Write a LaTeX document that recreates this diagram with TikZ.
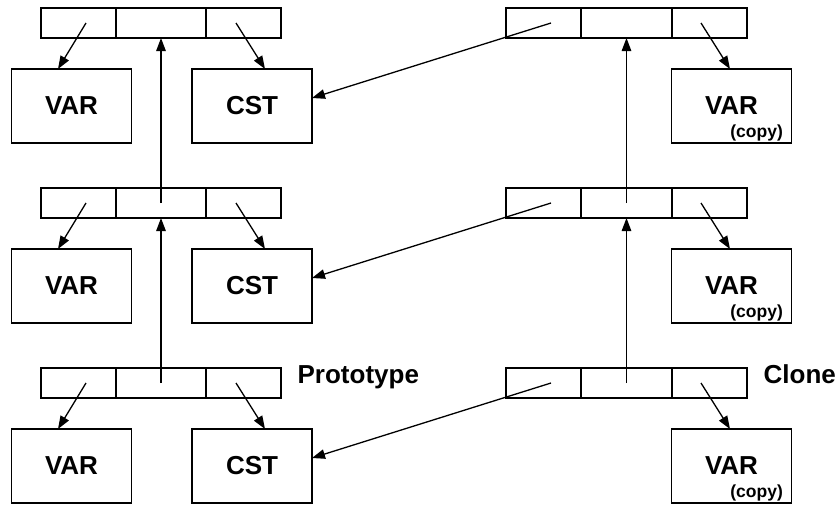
\documentclass[tikz,border=0pt]{standalone}
\usepackage{fontspec}
\setmainfont{Liberation Sans}
\usetikzlibrary{arrows.meta}
\begin{document}
\begin{tikzpicture}[x=1pt, y=-1pt, line width=1.3pt,
  cell/.style={draw, rectangle, minimum height=30pt, inner sep=0pt, outer sep=0pt},
  sidecell/.style={cell, minimum width=75pt},
  midcell/.style={cell, minimum width=90pt},
  obj/.style={draw, rectangle, minimum width=120pt, minimum height=74pt,
    inner sep=0pt, outer sep=0pt, font=\fontsize{26}{28}\selectfont\bfseries},
  copytag/.style={inner sep=0pt, font=\fontsize{17.5}{18}\selectfont\bfseries},
  title/.style={anchor=base west, inner sep=0pt, font=\fontsize{26}{28}\selectfont\bfseries},
  ptr/.style={-{Triangle[length=13pt, width=9.5pt]}}]
\useasboundingbox (0,0) rectangle (837,504);

\foreach \r/\yy in {1/0, 2/180, 3/360} {
  % prototype record and its objects
  \node[sidecell] (pa\r) at (78.5, 23+\yy) {};
  \node[midcell]  (pb\r) at (161, 23+\yy) {};
  \node[sidecell] (pc\r) at (243.5, 23+\yy) {};
  \node[obj] (var\r) at (71.5, 106+\yy) {VAR};
  \node[obj] (cst\r) at (252, 106+\yy) {CST};
  % clone record and its copied variable
  \node[sidecell] (ca\r) at (543.5, 23+\yy) {};
  \node[midcell]  (cb\r) at (626.5, 23+\yy) {};
  \node[sidecell] (cc\r) at (709.5, 23+\yy) {};
  \node[obj] (cpy\r) at (731.5, 106+\yy) {VAR};
  \node[copytag, anchor=south east] (tag\r) at ([xshift=-8pt, yshift=1.5pt]cpy\r.south east) {(copy)};
  % slot pointers
  \draw[ptr] ([xshift=7.5pt]pa\r.center) -- ([xshift=-13.5pt]var\r.north);
  \draw[ptr] ([xshift=-7.5pt]pc\r.center) -- ([xshift=13pt]cst\r.north);
  \draw[ptr] ([xshift=-8.5pt]cc\r.center) -- ([xshift=-1.5pt]cpy\r.north);
  \draw[ptr] ([xshift=7.5pt]ca\r.center) -- ([yshift=8pt]cst\r.east);
}

% parent links between records
\draw[ptr] (pb2.center) -- (pb1.south);
\draw[ptr] (pb3.center) -- (pb2.south);
\draw[ptr] (cb2.center) -- (cb1.south);
\draw[ptr] (cb3.center) -- (cb2.south);

\node[title] (proto) at (297, 383) {Prototype};
\node[title] (clone) at (763, 383) {Clone};
\end{tikzpicture}
\end{document}
